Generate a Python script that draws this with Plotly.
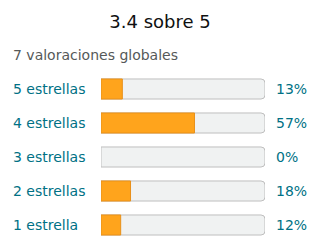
import plotly.graph_objects as go

categories = ["5 estrellas", "4 estrellas", "3 estrellas", "2 estrellas", "1 estrella"]
percents = [13, 57, 0, 18, 12]
pct_labels = ["13%", "57%", "0%", "18%", "12%"]
title_text = "3.4 sobre 5"
subtitle_text = "7 valoraciones globales"

W, H = 320, 252
L, R, T, B = 101, 55, 72, 10
plot_h = H - T - B
plot_w = W - L - R

FONT = "DejaVu Sans"
TEAL = "#007185"

fig = go.Figure()
fig.add_trace(go.Bar(
    y=categories, x=[100] * len(categories), orientation="h",
    marker=dict(color="#f0f2f2", line=dict(color="#bfbfbf", width=1)),
    hoverinfo="skip", showlegend=False,
))
fig.add_trace(go.Bar(
    y=categories, x=percents, orientation="h",
    marker=dict(color="#ffa41c",
                line=dict(color="#e8901a", width=[1 if p > 0 else 0 for p in percents])),
    hoverinfo="skip", showlegend=False,
))

annotations = []
for cat, lab in zip(categories, pct_labels):
    annotations.append(dict(
        x=(11 - L) / plot_w, xref="paper", y=cat, yref="y",
        text=cat, showarrow=False, xanchor="left", yanchor="middle",
        font=dict(family=FONT, size=14, color=TEAL),
    ))
    annotations.append(dict(
        x=(274 - L) / plot_w, xref="paper", y=cat, yref="y",
        text=lab, showarrow=False, xanchor="left", yanchor="middle",
        font=dict(family=FONT, size=14, color=TEAL),
    ))
annotations.append(dict(
    x=(11 - L) / plot_w, xref="paper", y=(H - B - 55) / plot_h, yref="paper",
    text=subtitle_text, showarrow=False, xanchor="left", yanchor="middle",
    font=dict(family=FONT, size=14, color="#565959"),
))

fig.update_layout(
    width=W, height=H,
    margin=dict(l=L, r=R, t=T, b=B, pad=0),
    paper_bgcolor="white", plot_bgcolor="white",
    barmode="overlay", bargap=0.41, barcornerradius=4,
    title=dict(text=title_text, x=0.5, xanchor="center", xref="paper",
               y=1 - 22 / H, yanchor="middle", yref="container",
               font=dict(family=FONT, size=18, color="#0f1111")),
    xaxis=dict(range=[0, 100], visible=False, fixedrange=True),
    yaxis=dict(categoryorder="array", categoryarray=categories, autorange="reversed",
               visible=False, fixedrange=True),
    annotations=annotations,
    font=dict(family=FONT),
)
fig.update_layout(title_x=(160 - L) / plot_w)

fig.write_html("out.html", config={"displayModeBar": False})
